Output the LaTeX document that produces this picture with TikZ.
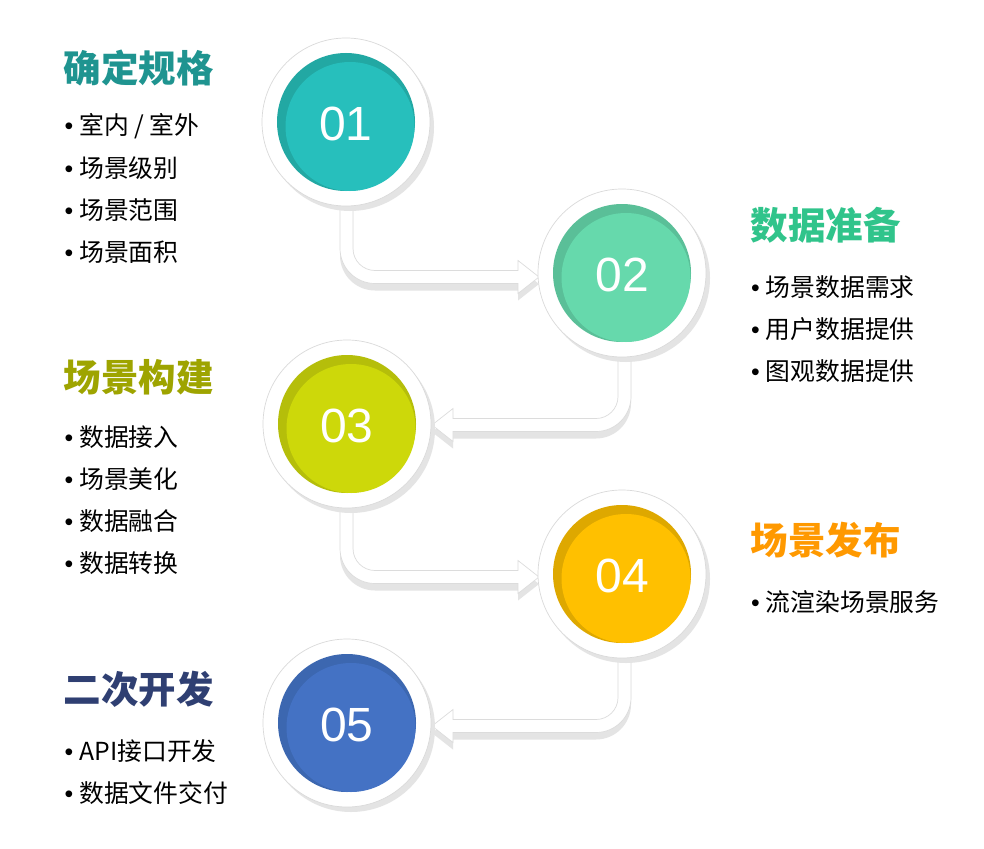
\documentclass[tikz,border=0pt]{standalone}
\usepackage{fontspec}
\setmainfont{Liberation Sans}
\newfontfamily\cjk{Noto Sans CJK SC}
\definecolor{shadowgray}{HTML}{E4E4E4}
\definecolor{ringgray}{HTML}{DADADA}
\definecolor{arrowline}{HTML}{DCDCDC}
\definecolor{tealD}{HTML}{22A8A3}\definecolor{tealL}{HTML}{27BFBC}
\definecolor{greenD}{HTML}{5ABF98}\definecolor{greenL}{HTML}{66D9AC}
\definecolor{limeD}{HTML}{B5BE0A}\definecolor{limeL}{HTML}{CDD80A}
\definecolor{goldD}{HTML}{DEA800}\definecolor{goldL}{HTML}{FFC000}
\definecolor{blueD}{HTML}{3C67B0}\definecolor{blueL}{HTML}{4472C4}
\definecolor{t1}{HTML}{1F9490}
\definecolor{t2}{HTML}{30C48B}
\definecolor{t3}{HTML}{9EA400}
\definecolor{t4}{HTML}{FF9900}
\definecolor{t5}{HTML}{2F3F72}
\tikzset{
  arrowbody/.style={fill=white, draw=arrowline, line width=0.7pt},
  ring/.style={circle, minimum size=168pt, inner sep=0pt, fill=white, draw=ringgray, line width=0.7pt},
  numtext/.style={text=white, font=\fontsize{48}{48}\selectfont, inner sep=0pt},
  titletext/.style={anchor=west, inner sep=0pt, font=\cjk\bfseries\fontsize{37.5}{37.5}\selectfont},
  itemtext/.style={anchor=west, inner sep=0pt, font=\cjk\fontsize{24.8}{24.8}\selectfont, text=black},
}
\newcommand\bul{{\fontfamily{\rmdefault}\selectfont\textbullet}\hspace{6pt}}
% down-right arrow: L, T, yc, xtip
\newcommand\arrowDR[4]{%
\pgfmathsetmacro\aL{#1}\pgfmathsetmacro\aR{#1+13}%
\pgfmathsetmacro\aT{#2}\pgfmathsetmacro\at{#3-6.5}\pgfmathsetmacro\ab{#3+6.5}%
\pgfmathsetmacro\ayc{#3}\pgfmathsetmacro\axt{#4}\pgfmathsetmacro\axb{#4-21}%
\def\apath{(\aL,\aT) -- (\aL,\ab-35) .. controls (\aL,\ab-15.67) and (\aL+15.67,\ab) .. (\aL+35,\ab) -- (\axb,\ab) -- (\axb,\ayc+16.5) -- (\axt,\ayc) -- (\axb,\ayc-16.5) -- (\axb,\at) -- (\aR+22,\at) .. controls (\aR+9.85,\at) and (\aR,\at-9.85) .. (\aR,\at-22) -- (\aR,\aT) -- cycle}%
\fill[shadowgray, yshift=-7pt] \apath;
\draw[arrowbody] \apath;
}
% down-left arrow: L, T, yc, xtip
\newcommand\arrowDL[4]{%
\pgfmathsetmacro\aL{#1}\pgfmathsetmacro\aR{#1+13}%
\pgfmathsetmacro\aT{#2}\pgfmathsetmacro\at{#3-6.5}\pgfmathsetmacro\ab{#3+6.5}%
\pgfmathsetmacro\ayc{#3}\pgfmathsetmacro\axt{#4}\pgfmathsetmacro\axb{#4+21}%
\def\apath{(\aR,\aT) -- (\aR,\ab-35) .. controls (\aR,\ab-15.67) and (\aR-15.67,\ab) .. (\aR-35,\ab) -- (\axb,\ab) -- (\axb,\ayc+16.5) -- (\axt,\ayc) -- (\axb,\ayc-16.5) -- (\axb,\at) -- (\aL-22,\at) .. controls (\aL-9.85,\at) and (\aL,\at-9.85) .. (\aL,\at-22) -- (\aL,\aT) -- cycle}%
\fill[shadowgray, yshift=-7pt] \apath;
\draw[arrowbody] \apath;
}
% step circle: name, x, y, dark, light, number
\newcommand\stepcirc[6]{%
\fill[shadowgray] (#2+4,#3+5) circle (84pt);
\node[ring] (#1) at (#2,#3) {};
\fill[#4] (#1.center) circle (69pt);
\fill[#5] ($(#1.center)+(4,4.5)$) circle (64.5pt);
\node[numtext] (#1n) at ($(#1.center)+(0,2)$) {#6};
}
\usetikzlibrary{calc}
\begin{document}
\begin{tikzpicture}[x=1pt,y=-1pt]
\useasboundingbox (0,0) rectangle (984,848);
\fill[white] (0,0) rectangle (984,848);
% arrows
\arrowDR{340}{122}{277}{539}
\arrowDL{618}{273}{425}{432}
\arrowDR{340}{424}{577}{539}
\arrowDL{618}{574}{726}{432}
% circles
\stepcirc{c1}{346}{122}{tealD}{tealL}{01}
\stepcirc{c2}{622}{273}{greenD}{greenL}{02}
\stepcirc{c3}{347}{424}{limeD}{limeL}{03}
\stepcirc{c4}{622}{574}{goldD}{goldL}{04}
\stepcirc{c5}{347}{723}{blueD}{blueL}{05}
% texts block 1
\node[titletext, text=t1] (h1) at (63.5,68) {确定规格};
\node[itemtext] (i11) at (64.5,126) {\bul 室内 / 室外};
\node[itemtext] (i12) at (64.5,168) {\bul 场景级别};
\node[itemtext] (i13) at (64.5,210) {\bul 场景范围};
\node[itemtext] (i14) at (64.5,252) {\bul 场景面积};
% block 2
\node[titletext, text=t2] (h2) at (750.5,225) {数据准备};
\node[itemtext] (i21) at (751,287) {\bul 场景数据需求};
\node[itemtext] (i22) at (751,329) {\bul 用户数据提供};
\node[itemtext] (i23) at (751,371) {\bul 图观数据提供};
% block 3
\node[titletext, text=t3] (h3) at (63.5,377) {场景构建};
\node[itemtext] (i31) at (64.5,437) {\bul 数据接入};
\node[itemtext] (i32) at (64.5,479) {\bul 场景美化};
\node[itemtext] (i33) at (64.5,521) {\bul 数据融合};
\node[itemtext] (i34) at (64.5,563) {\bul 数据转换};
% block 4
\node[titletext, text=t4] (h4) at (750.5,540) {场景发布};
\node[itemtext] (i41) at (751,602) {\bul 流渲染场景服务};
% block 5
\node[titletext, text=t5] (h5) at (63.5,689) {二次开发};
\node[itemtext] (i51) at (64.5,751) {\bul API接口开发};
\node[itemtext] (i52) at (64.5,793) {\bul 数据文件交付};
\end{tikzpicture}
\end{document}
